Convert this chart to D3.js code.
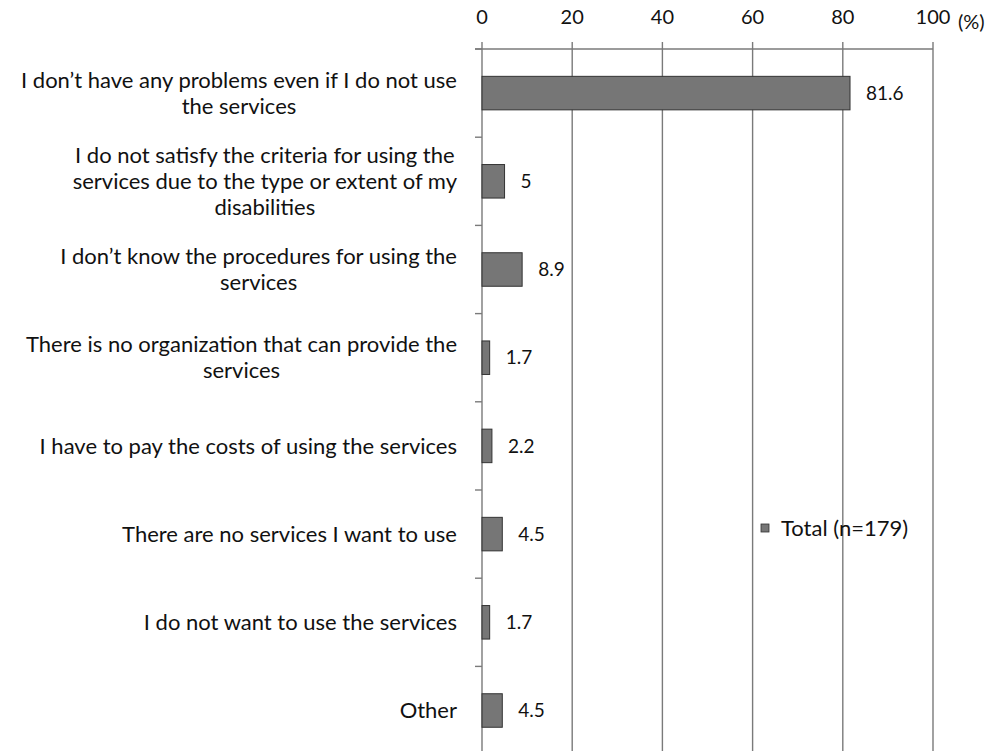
<!DOCTYPE html>
<html>
<head>
<meta charset="utf-8">
<script src="https://cdn.jsdelivr.net/npm/d3@7"></script>
<style>
  html, body { margin: 0; padding: 0; background: #fff; }
  svg { display: block; font-family: Lato, "Open Sans", sans-serif; }
</style>
</head>
<body>
<svg id="chart" width="995" height="751"></svg>
<script>
// Reasons for not using the services (multiple answers, %)
const categories = [
  "I don’t have any problems even if I do not use\nthe services",
  "I do not satisfy the criteria for using the\nservices due to the type or extent of my\ndisabilities",
  "I don’t know the procedures for using the\nservices",
  "There is no organization that can provide the\nservices",
  "I have to pay the costs of using the services",
  "There are no services I want to use",
  "I do not want to use the services",
  "Other"
];
const values = [81.6, 5, 8.9, 1.7, 2.2, 4.5, 1.7, 4.5];
const xTicks = [0, 20, 40, 60, 80, 100];
const unitLabel = "(%)";
const seriesName = "Total (n=179)";

(function draw() {
  const svg = d3.select("#chart");
  const plotLeft = 482, plotRight = 933, plotTop = 49, bandStep = 88.2;

  const x = d3.scaleLinear().domain([0, 100]).range([plotLeft, plotRight]);
  const y = d3.scaleBand()
    .domain(categories)
    .range([plotTop, plotTop + bandStep * categories.length])
    .paddingInner(0.62).paddingOuter(0.31);

  const gridColor = "#7a7a7a";
  const barFill = "#767676";
  const barStroke = "#333";
  const textColor = "#111";

  // vertical gridlines (extend a little above the top axis line as tick marks)
  svg.append("g").selectAll("line").data(xTicks).join("line")
    .attr("x1", d => x(d)).attr("x2", d => x(d))
    .attr("y1", plotTop - 7).attr("y2", 760)
    .attr("stroke", gridColor).attr("stroke-width", 1.4);

  // top axis line, starting at the category-axis tick
  svg.append("line")
    .attr("x1", plotLeft - 7).attr("x2", plotRight)
    .attr("y1", plotTop).attr("y2", plotTop)
    .attr("stroke", gridColor).attr("stroke-width", 1.4);

  // top axis labels
  svg.append("g").selectAll("text").data(xTicks).join("text")
    .attr("x", d => x(d)).attr("y", 24)
    .attr("text-anchor", "middle")
    .attr("font-size", 20).attr("fill", textColor)
    .text(d => d);

  svg.append("text")
    .attr("x", 958).attr("y", 29)
    .attr("font-size", 20).attr("fill", textColor)
    .text(unitLabel);

  // category axis ticks at band boundaries
  const boundaries = d3.range(categories.length + 1).map(i => plotTop + i * bandStep);
  svg.append("g").selectAll("line").data(boundaries).join("line")
    .attr("x1", plotLeft - 7).attr("x2", plotLeft)
    .attr("y1", d => d).attr("y2", d => d)
    .attr("stroke", gridColor).attr("stroke-width", 1.4);

  // bars
  svg.append("g").selectAll("rect").data(values).join("rect")
    .attr("x", x(0))
    .attr("y", (d, i) => y(categories[i]))
    .attr("width", d => x(d) - x(0))
    .attr("height", y.bandwidth())
    .attr("fill", barFill)
    .attr("stroke", barStroke).attr("stroke-width", 1);

  // value labels
  svg.append("g").selectAll("text").data(values).join("text")
    .attr("x", d => x(d) + 16)
    .attr("y", (d, i) => y(categories[i]) + y.bandwidth() / 2)
    .attr("dy", "0.35em")
    .attr("font-size", 19).attr("fill", textColor)
    .text(d => d);

  // category labels: multi-line blocks, right-aligned as a block, lines centered
  const lineH = 26, labelRight = 457;
  const labelG = svg.append("g").attr("font-size", 22).attr("fill", textColor);
  categories.forEach(cat => {
    const lines = cat.split("\n");
    const cy = y(cat) + y.bandwidth() / 2;
    const t = labelG.append("text").attr("text-anchor", "middle");
    const spans = lines.map((ln, k) => t.append("tspan")
      .attr("y", cy + (k - (lines.length - 1) / 2) * lineH)
      .attr("dy", "0.35em")
      .text(ln));
    const w = d3.max(spans, s => s.node().getComputedTextLength());
    spans.forEach(s => s.attr("x", labelRight - w / 2));
  });

  // legend
  const lg = svg.append("g");
  lg.append("rect")
    .attr("x", 761).attr("y", 524).attr("width", 8).attr("height", 8)
    .attr("fill", barFill).attr("stroke", barStroke).attr("stroke-width", 0.8);
  lg.append("text")
    .attr("x", 781).attr("y", 528).attr("dy", "0.35em")
    .attr("font-size", 22).attr("fill", textColor)
    .text(seriesName);
})();
</script>
</body>
</html>
